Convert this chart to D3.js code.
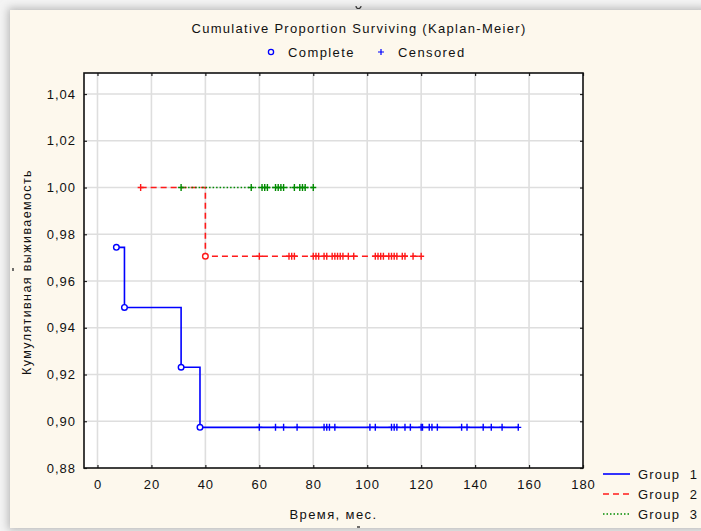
<!DOCTYPE html>
<html>
<head>
<meta charset="utf-8">
<title>Cumulative Proportion Surviving (Kaplan-Meier)</title>
<script src="https://cdnjs.cloudflare.com/ajax/libs/d3/7.8.5/d3.min.js"></script>
<style>
  body { margin: 0; background: #ffffff; }
  svg text { font-family: "Liberation Sans", Arial, sans-serif; fill: #111; }
</style>
</head>
<body>
<svg id="chart" width="701" height="531"></svg>
<script>
// ---- data ----
var groupNames = ["Group  1", "Group  2", "Group  3"];
var groupColors = ["#0000ff", "#ff1a1a", "#008a00"];
var groupDash = [null, "6,4", "1.5,2"];

// complete (event) times and survival after each event
var g1EventT = [7, 10, 31, 38];
var g1EventS = [0.9744, 0.9487, 0.9231, 0.8974];
var g2EventT = [40];
var g2EventS = [0.9706];
var g3EventT = [];
var g3EventS = [];

// censored times
var g1CensT = [60, 66, 69, 74, 84, 85, 86, 88, 101, 103, 109, 110, 111, 114, 116,
               120, 120.5, 123, 124, 126, 135, 137, 143, 146, 150, 156];
var g2CensT = [16, 60, 71, 72, 73, 80, 81, 82, 84, 85, 87, 88, 89, 90, 91, 93, 95,
               103, 104, 105, 106, 108, 109, 110, 111, 113, 114, 117, 120];
var g3CensT = [31, 57, 61, 62, 63, 66, 67, 68, 69, 73, 75, 76, 77, 80];

var xTicks = [0, 20, 40, 60, 80, 100, 120, 140, 160, 180];
var yTicks = [0.88, 0.90, 0.92, 0.94, 0.96, 0.98, 1.00, 1.02, 1.04];

var titleText = "Cumulative Proportion Surviving (Kaplan-Meier)";
var xLabel = "Время, мес.";
var yLabel = "Кумулятивная выживаемость";

// ---- drawing ----
var svg = d3.select("#chart");
var pL = 84, pR = 583, pT = 73, pB = 468;

var x = d3.scaleLinear().domain([-5, 180]).range([pL, pR]);
var y = d3.scaleLinear().domain([0.88, 1.049]).range([pB, pT]);

// window background with soft shadow
var defs = svg.append("defs");
var blur = defs.append("filter").attr("id", "sh").attr("x", "-5%").attr("y", "-5%")
  .attr("width", "110%").attr("height", "110%");
blur.append("feGaussianBlur").attr("stdDeviation", 4);
svg.append("rect").attr("width", 701).attr("height", 531).attr("fill", "#f4f4f4");
svg.append("rect").attr("x", 8).attr("y", 8).attr("width", 700).attr("height", 522)
  .attr("fill", "#b8b8b8").attr("filter", "url(#sh)");
svg.append("rect").attr("x", 10).attr("y", 10).attr("width", 700).attr("height", 518)
  .attr("fill", "#fdf8ed");

// plot area
svg.append("rect").attr("x", pL).attr("y", pT)
  .attr("width", pR - pL).attr("height", pB - pT).attr("fill", "#fff");

// grid
svg.append("g").selectAll("line").data(xTicks.slice(0, -1)).join("line")
  .attr("x1", d => x(d)).attr("x2", d => x(d)).attr("y1", pT).attr("y2", pB)
  .attr("stroke", "#dedede").attr("stroke-width", 1.6);
svg.append("g").selectAll("line").data(yTicks.slice(1)).join("line")
  .attr("y1", d => y(d)).attr("y2", d => y(d)).attr("x1", pL).attr("x2", pR)
  .attr("stroke", "#dedede").attr("stroke-width", 1.6);

// axes (inward ticks)
var fmt = d => d.toFixed(2).replace(".", ",");
function styleAxis(g) {
  g.select(".domain").remove();
  g.selectAll(".tick line").attr("stroke", "#222").attr("stroke-width", 1.2);
  g.selectAll("text").attr("font-size", 13).attr("letter-spacing", "1px")
    .attr("fill", "#111").attr("font-family", "Liberation Sans, Arial, sans-serif");
}
svg.append("g").attr("transform", "translate(" + pL + ",0)")
  .call(d3.axisLeft(y).tickValues(yTicks).tickSize(-3).tickPadding(8).tickFormat(fmt))
  .call(styleAxis);
svg.append("g").attr("transform", "translate(0," + pB + ")")
  .call(d3.axisBottom(x).tickValues(xTicks).tickSize(-3).tickPadding(12))
  .call(styleAxis);
svg.append("g").attr("transform", "translate(" + pR + ",0)")
  .call(d3.axisRight(y).tickValues(yTicks).tickSize(-3).tickFormat(""))
  .call(styleAxis);
svg.append("g").attr("transform", "translate(0," + pT + ")")
  .call(d3.axisTop(x).tickValues(xTicks).tickSize(-3).tickFormat(""))
  .call(styleAxis);

svg.append("rect").attr("x", pL).attr("y", pT)
  .attr("width", pR - pL).attr("height", pB - pT)
  .attr("fill", "none").attr("stroke", "#111").attr("stroke-width", 1.6);

// curves
var groups = [
  { evT: g1EventT, evS: g1EventS, cT: g1CensT },
  { evT: g2EventT, evS: g2EventS, cT: g2CensT },
  { evT: g3EventT, evS: g3EventS, cT: g3CensT }
];

function survAt(g, t) {
  var s = 1.0;
  g.evT.forEach(function (e, i) { if (e <= t) s = g.evS[i]; });
  return s;
}

var line = d3.line().x(d => x(d[0])).y(d => y(d[1])).curve(d3.curveStepAfter);

groups.forEach(function (g, gi) {
  var times = g.evT.concat(g.cT);
  var t0 = d3.min(times), t1 = d3.max(times);
  var pts = [[t0, survAt(g, t0)]];
  g.evT.forEach(function (e, i) { if (e > t0) pts.push([e, g.evS[i]]); });
  pts.push([t1, survAt(g, t1)]);

  var layer = svg.append("g");
  layer.append("path").datum(pts).attr("d", line)
    .attr("fill", "none").attr("stroke", groupColors[gi]).attr("stroke-width", 1.6)
    .attr("stroke-dasharray", groupDash[gi]);

  layer.selectAll("path.cens").data(g.cT).join("path").attr("class", "cens")
    .attr("d", d => "M" + (x(d) - 3) + "," + y(survAt(g, d)) + "h6M" + x(d) + "," + (y(survAt(g, d)) - 3.5) + "v7")
    .attr("stroke", groupColors[gi]).attr("stroke-width", 1.4).attr("fill", "none");

  layer.selectAll("circle").data(g.evT).join("circle")
    .attr("cx", d => x(d)).attr("cy", (d, i) => y(g.evS[i])).attr("r", 2.8)
    .attr("fill", "#fff").attr("stroke", groupColors[gi]).attr("stroke-width", 1.4);
});

// titles
svg.append("text").attr("x", 359).attr("y", 33).attr("text-anchor", "middle")
  .attr("font-size", 13).attr("letter-spacing", "1.3px").text(titleText);

svg.append("circle").attr("cx", 271).attr("cy", 52).attr("r", 2.6)
  .attr("fill", "none").attr("stroke", "#0000ff").attr("stroke-width", 1.3);
svg.append("text").attr("x", 288).attr("y", 57).attr("font-size", 13)
  .attr("letter-spacing", "1.4px").text("Complete");
svg.append("path").attr("d", "M378,52h6M381,49v6").attr("stroke", "#0000ff").attr("stroke-width", 1.2);
svg.append("text").attr("x", 398).attr("y", 57).attr("font-size", 13)
  .attr("letter-spacing", "1.4px").text("Censored");

svg.append("text").attr("x", (pL + pR) / 2).attr("y", 519).attr("text-anchor", "middle")
  .attr("font-size", 13).attr("letter-spacing", "1.4px").text(xLabel);

svg.append("text").attr("transform", "translate(31,272) rotate(-90)").attr("text-anchor", "middle")
  .attr("font-size", 12.5).attr("letter-spacing", "1.4px").text(yLabel);

// small stray marks seen in the original window
svg.append("path").attr("d", "M356,6a2.5,2.5 0 1,0 5,0").attr("fill", "none")
  .attr("stroke", "#333").attr("stroke-width", 1.2);
svg.append("path").attr("d", "M357,527h3").attr("stroke", "#333").attr("stroke-width", 1.4);
svg.append("path").attr("d", "M13,268v3").attr("stroke", "#333").attr("stroke-width", 1.4);

// group legend
var leg = svg.append("g").selectAll("g").data(groupNames).join("g")
  .attr("transform", (d, i) => "translate(603," + [474, 494, 514][i] + ")");
leg.append("line").attr("x1", 0).attr("x2", 27)
  .attr("stroke", (d, i) => groupColors[i]).attr("stroke-width", 1.6)
  .attr("stroke-dasharray", (d, i) => groupDash[i]);
leg.append("text").attr("x", 35).attr("y", 5).attr("font-size", 13)
  .attr("letter-spacing", "1.2px").style("white-space", "pre").text(d => d);
</script>
</body>
</html>
